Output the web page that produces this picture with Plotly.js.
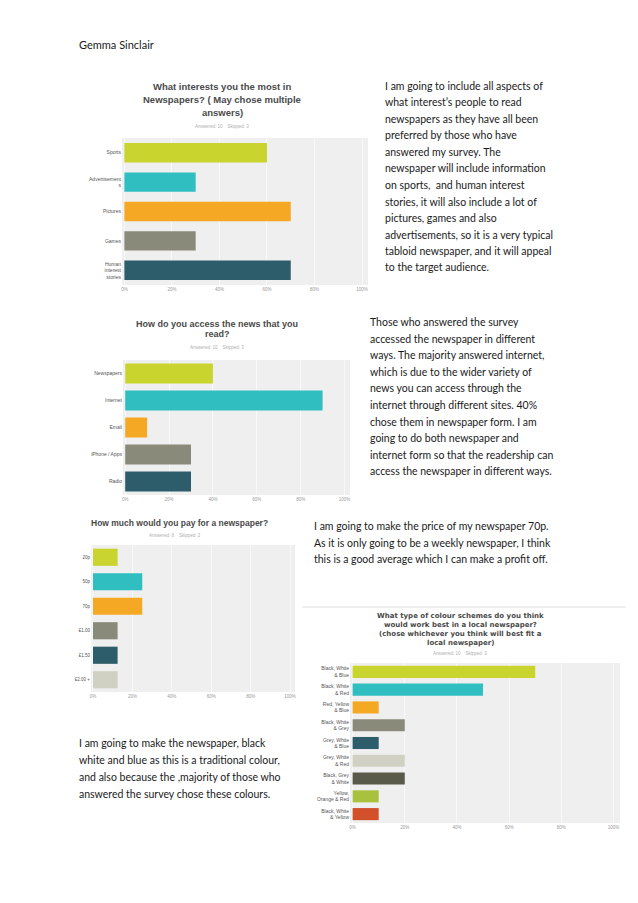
<!DOCTYPE html>
<html><head><meta charset="utf-8">
<script src="https://cdn.plot.ly/plotly-3.0.1.min.js"></script>
<style>html,body{margin:0;padding:0;background:#fff;}#c{width:638px;height:903px;}</style>
</head><body><div id="c"></div>
<script>
// ---------- DATA ----------
const q1Title = ['What interests you the most in', 'Newspapers? ( May chose multiple', 'answers)'];
const q1Sub = 'Answered: 10    Skipped: 3';
const q1Cats = ['Sports', 'Advertisement<br>s', 'Pictures', 'Games', 'Human<br>interest<br>stories'];
const q1Vals = [60, 30, 70, 30, 70];

const q2Title = ['How do you access the news that you', 'read?'];
const q2Sub = 'Answered: 10    Skipped: 3';
const q2Cats = ['Newspapers', 'Internet', 'Email', 'iPhone / Apps', 'Radio'];
const q2Vals = [40, 90, 10, 30, 30];

const q3Title = ['How much would you pay for a newspaper?'];
const q3Sub = 'Answered: 8    Skipped: 2';
const q3Cats = ['20p', '50p', '70p', '£1.00', '£1.50', '£2.00 +'];
const q3Vals = [12.5, 25, 25, 12.5, 12.5, 12.5];

const q4Title = ['What type of colour schemes do you think', 'would work best in a local newspaper?', '(chose whichever you think will best fit a', 'local newspaper)'];
const q4Sub = 'Answered: 10    Skipped: 3';
const q4Cats = ['Black, White<br>& Blue', 'Black, White<br>& Red', 'Red, Yellow<br>& Blue', 'Black, White<br>& Grey', 'Grey, White<br>& Blue', 'Grey, White<br>& Red', 'Black, Grey<br>& White', 'Yellow,<br>Orange & Red', 'Black, White<br>& Yellow'];
const q4Vals = [70, 50, 10, 20, 10, 20, 20, 10, 10];

const xTicks = [0, 20, 40, 60, 80, 100];
const xTickText = ['0%', '20%', '40%', '60%', '80%', '100%'];

const header = 'Gemma Sinclair';
const text1 = ['I am going to include all aspects of', 'what interest’s people to read', 'newspapers as they have all been', 'preferred by those who have', 'answered my survey. The', 'newspaper will include information', 'on sports,  and human interest', 'stories, it will also include a lot of', 'pictures, games and also', 'advertisements, so it is a very typical', 'tabloid newspaper, and it will appeal', 'to the target audience.'];
const text2 = ['Those who answered the survey', 'accessed the newspaper in different', 'ways. The majority answered internet,', 'which is due to the wider variety of', 'news you can access through the', 'internet through different sites. 40%', 'chose them in newspaper form. I am', 'going to do both newspaper and', 'internet form so that the readership can', 'access the newspaper in different ways.'];
const text3 = ['I am going to make the price of my newspaper 70p.', 'As it is only going to be a weekly newspaper, I think', 'this is a good average which I can make a profit off.'];
const text4 = ['I am going to make the newspaper, black', 'white and blue as this is a traditional colour,', 'and also because the ,majority of those who', 'answered the survey chose these colours.'];

const palette = ['#c9d42e', '#30bec1', '#f5a824', '#8a8a7b', '#2d5c6a', '#d1d1c3', '#5a5a4b', '#a8c23d', '#d2512a'];

// ---------- LAYOUT HELPERS ----------
const W = 638, H = 903;
const px = x => x / W;
const py = y => 1 - y / H;
const boxes = [
  {x0: 122, x1: 368, y0: 138, y1: 285},
  {x0: 123, x1: 350, y0: 360, y1: 495},
  {x0: 91, x1: 295, y0: 545, y1: 692},
  {x0: 350, x1: 620, y0: 663, y1: 823}
];
const cats = [q1Cats, q2Cats, q3Cats, q4Cats];
const vals = [q1Vals, q2Vals, q3Vals, q4Vals];
const widths = [0.66, 0.74, 0.7, 0.68];
const catFont = [5, 5, 4.5, 5];

const data = [], layout = {
  width: W, height: H, autosize: false,
  margin: {l: 0, r: 0, t: 0, b: 0, pad: 0},
  paper_bgcolor: '#ffffff', plot_bgcolor: '#efefef',
  showlegend: false, bargap: 0.3,
  font: {family: 'Liberation Sans, Arial, sans-serif', color: '#444'},
  annotations: [], shapes: []
};
boxes.forEach((b, i) => {
  const s = i === 0 ? '' : String(i + 1);
  data.push({
    type: 'bar', orientation: 'h', x: vals[i], y: cats[i],
    xaxis: 'x' + s, yaxis: 'y' + s, width: widths[i],
    marker: {color: palette.slice(0, cats[i].length), line: {width: 0}},
    hoverinfo: 'none'
  });
  layout['xaxis' + s] = {
    domain: [px(b.x0), px(b.x1)], anchor: 'y' + s, range: [-1, 102.5],
    tickvals: xTicks, ticktext: xTickText, showgrid: true, gridcolor: '#f8f8f8', gridwidth: 1,
    zeroline: false, showline: false, ticks: '', fixedrange: true,
    tickfont: {size: 4.5, color: '#999'}
  };
  layout['yaxis' + s] = {
    domain: [py(b.y1), py(b.y0)], anchor: 'x' + s, autorange: 'reversed',
    type: 'category', showgrid: false, zeroline: false, showline: false, ticks: '',
    tickfont: {size: catFont[i], color: '#555'}, fixedrange: true
  };
});

const ann = layout.annotations;
function addText(t, x, y, size, opts) {
  ann.push(Object.assign({text: t, x: px(x), y: py(y), xref: 'paper', yref: 'paper',
    showarrow: false, xanchor: 'left', yanchor: 'middle',
    font: {family: 'Lato, Liberation Sans, sans-serif', size: size, color: '#1a1a1a'}}, opts || {}));
}
function addLines(lines, x, y0, dy, size) {
  lines.forEach((t, i) => addText(t, x, y0 + i * dy, size));
}
function addTitle(lines, x, y0, dy, size, anchor, family) {
  lines.forEach((t, i) => addText('<b>' + t + '</b>', x, y0 + i * dy, size,
    {xanchor: anchor, font: {family: family || 'Liberation Sans, Arial, sans-serif', size: size, color: '#4a4a4a'}}));
}
function addSub(t, x, y) {
  addText(t, x, y, 4.5, {xanchor: 'center', font: {family: 'Liberation Sans, Arial, sans-serif', size: 4.5, color: '#b0b0b0'}});
}

addText(header, 77, 45, 11);

addTitle(q1Title, 222, 87, 12.5, 9.5, 'center');
addSub(q1Sub, 222, 126);
addTitle(q2Title, 217, 324, 10.5, 9, 'center');
addSub(q2Sub, 217, 347);
addTitle(q3Title, 89, 523, 10, 8.5, 'left');
addSub(q3Sub, 175, 535);
addTitle(q4Title, 460, 616, 9, 7, 'center', 'DejaVu Sans, Liberation Sans, sans-serif');
addSub(q4Sub, 460, 653);

addLines(text1, 383, 86, 16.5, 10.5);
addLines(text2, 368, 322, 16.6, 10.5);
addLines(text3, 312, 526, 16.7, 10.5);
addLines(text4, 77, 743, 17, 10.5);

layout.shapes.push({type: 'line', xref: 'paper', yref: 'paper', x0: px(302), x1: px(626), y0: py(607), y1: py(607), line: {color: '#e0e0e0', width: 1}});

Plotly.newPlot('c', data, layout, {displayModeBar: false, staticPlot: true});
</script>
</body></html>
